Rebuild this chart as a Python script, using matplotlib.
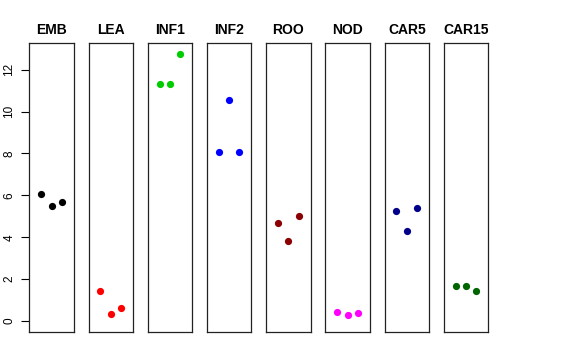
import numpy as np
import matplotlib
matplotlib.use("Agg")
import matplotlib.pyplot as plt

plt.rcParams['font.family'] = ['Liberation Sans', 'DejaVu Sans']

# ---- data ----
tissues = ["EMB", "LEA", "INF1", "INF2", "ROO", "NOD", "CAR5", "CAR15"]
colors = ["#000000", "#FF0000", "#00CD00", "#0000FF",
          "#8B0000", "#FF00FF", "#00008B", "#006400"]
emb = [6.06, 5.50, 5.66]
lea = [1.44, 0.32, 0.61]
inf1 = [11.33, 11.33, 12.75]
inf2 = [8.09, 10.53, 8.09]
roo = [4.68, 3.83, 5.01]
nod = [0.45, 0.29, 0.37]
car5 = [5.23, 4.28, 5.38]
car15 = [1.68, 1.68, 1.42]
values = [emb, lea, inf1, inf2, roo, nod, car5, car15]
reps = [1, 2, 3]
y_ticks = [0, 2, 4, 6, 8, 10, 12]

W, H = 576, 360
fig = plt.figure(figsize=(W / 100, H / 100), dpi=100)

left0, pitch, pw = 29.3, 59.2, 44.5
top, bottom = 43.3, 331.7
ymax = max(max(v) for v in values)
pad = 0.04 * ymax

for i, (name, col, vals) in enumerate(zip(tissues, colors, values)):
    ax = fig.add_axes([(left0 + i * pitch) / W, (H - bottom) / H,
                       pw / W, (bottom - top) / H])
    ax.plot(reps, vals, 'o', color=col, markersize=5.2, markeredgewidth=0)
    ax.set_xlim(-0.16, 4.16)
    ax.set_ylim(-pad, ymax + pad)
    ax.set_xticks([])
    ax.set_title(name, fontsize=10, fontweight='bold', pad=7)
    for s in ax.spines.values():
        s.set_linewidth(0.9)
        s.set_color("#222222")
    if i == 0:
        ax.set_yticks(y_ticks)
        ax.set_yticklabels([str(t) for t in y_ticks], rotation=90,
                           va='center', fontsize=8.5)
        ax.tick_params(axis='y', length=6, width=0.8, pad=4)
    else:
        ax.set_yticks([])

fig.savefig("out.png", dpi=100)
